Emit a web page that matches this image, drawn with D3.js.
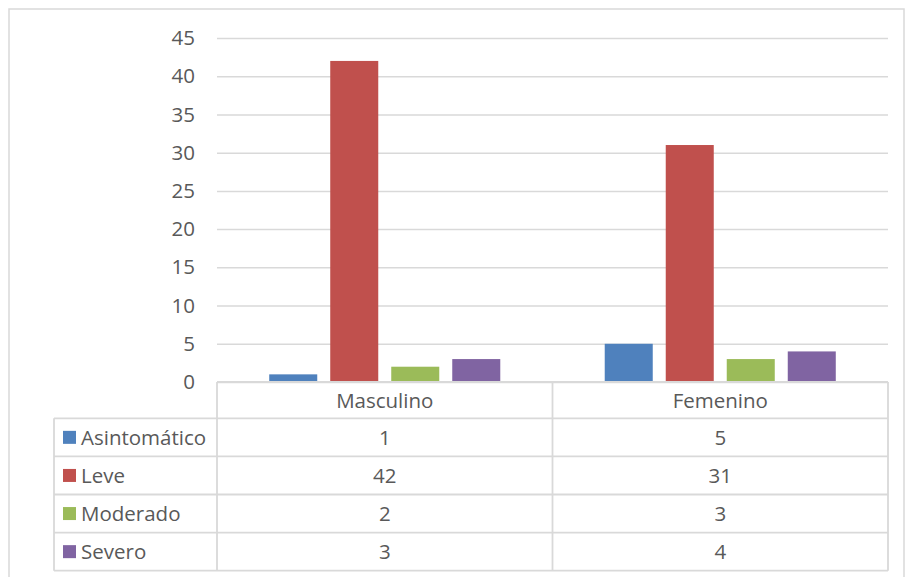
<!DOCTYPE html>
<html>
<head>
<meta charset="utf-8">
<script src="https://cdn.jsdelivr.net/npm/d3@7"></script>
<style>
  body { margin: 0; background: #fff; }
  svg { display: block; font-family: "Open Sans", sans-serif; }
</style>
</head>
<body>
<div id="chart"></div>
<script>
"use strict";

// Data
const categories = ["Masculino", "Femenino"];
const series = ["Asintomático", "Leve", "Moderado", "Severo"];
const values = [
    [1, 5],   // Asintomático
    [42, 31], // Leve
    [2, 3],   // Moderado
    [3, 4]    // Severo
];
const yTicks = [0, 5, 10, 15, 20, 25, 30, 35, 40, 45];
const colors = ["#4f81bd", "#c0504d", "#9bbb59", "#8064a2"];

const width = 906, height = 577;
const plotLeft = 217, plotRight = 888, plotTop = 38, base = 382;
const tableLeft = 54, rowH = 38.1, headH = 36.3;
const grey = "#d9d9d9", textCol = "#595959";
const fontSize = 20.5, font = "'Open Sans', sans-serif";

const svg = d3.select("#chart").append("svg")
    .attr("width", width)
    .attr("height", height);

// outer frame
svg.append("rect")
    .attr("x", 9).attr("y", 9)
    .attr("width", 895).attr("height", 600)
    .attr("fill", "none")
    .attr("stroke", grey)
    .attr("stroke-width", 1.5);

const y = d3.scaleLinear([0, 45], [base, plotTop]);
const x0 = d3.scaleBand(categories, [plotLeft, plotRight]).padding(0);
const x1 = d3.scaleBand(series, [0, x0.bandwidth()])
    .paddingInner(0.213)
    .paddingOuter(0.856);

// gridlines + tick labels
svg.append("g")
    .attr("transform", `translate(${plotLeft},0)`)
    .call(d3.axisLeft(y).tickValues(yTicks).tickSize(0).tickPadding(22))
    .call(g => g.select(".domain").remove())
    .call(g => g.selectAll(".tick line").clone()
        .attr("x2", plotRight - plotLeft)
        .attr("stroke", grey)
        .attr("stroke-width", 1.5))
    .call(g => g.selectAll(".tick text")
        .attr("fill", textCol)
        .attr("font-size", fontSize)
        .attr("font-family", font));

// bars
svg.append("g")
    .selectAll("g")
    .data(series)
    .join("g")
    .attr("fill", (d, i) => colors[i])
    .selectAll("rect")
    .data((s, i) => categories.map((c, j) => ({ s, c, v: values[i][j] })))
    .join("rect")
    .attr("x", d => x0(d.c) + x1(d.s))
    .attr("width", x1.bandwidth())
    .attr("y", d => y(d.v))
    .attr("height", d => base - y(d.v));

// data table
const table = svg.append("g")
    .attr("stroke", grey)
    .attr("stroke-width", 1.8)
    .attr("fill", "none");

const rowTop = i => base + headH + i * rowH;
const tableBottom = rowTop(series.length);

// horizontal lines
table.append("line").attr("x1", plotLeft).attr("x2", plotRight).attr("y1", base).attr("y2", base);
for (let i = 0; i <= series.length; i++) {
    table.append("line")
        .attr("x1", tableLeft).attr("x2", plotRight)
        .attr("y1", rowTop(i)).attr("y2", rowTop(i));
}
// vertical lines
table.append("line").attr("x1", tableLeft).attr("x2", tableLeft).attr("y1", rowTop(0)).attr("y2", tableBottom);
[plotLeft, plotLeft + x0.bandwidth(), plotRight].forEach(xv => {
    table.append("line").attr("x1", xv).attr("x2", xv).attr("y1", base).attr("y2", tableBottom);
});

const txt = svg.append("g")
    .attr("fill", textCol)
    .attr("font-size", fontSize)
    .attr("font-family", font);

// header categories
txt.selectAll(".cat")
    .data(categories)
    .join("text")
    .attr("x", d => x0(d) + x0.bandwidth() / 2)
    .attr("y", base + headH / 2)
    .attr("dy", "0.36em")
    .attr("text-anchor", "middle")
    .text(d => d);

// series labels with swatches
series.forEach((s, i) => {
    const cy = rowTop(i) + rowH / 2;
    svg.append("rect")
        .attr("x", 63).attr("y", cy - 6.5)
        .attr("width", 13).attr("height", 13)
        .attr("fill", colors[i]);
    txt.append("text")
        .attr("x", 81).attr("y", cy)
        .attr("dy", "0.36em")
        .text(s);
    categories.forEach((c, j) => {
        txt.append("text")
            .attr("x", x0(c) + x0.bandwidth() / 2)
            .attr("y", cy)
            .attr("dy", "0.36em")
            .attr("text-anchor", "middle")
            .text(values[i][j]);
    });
});
</script>
</body>
</html>
